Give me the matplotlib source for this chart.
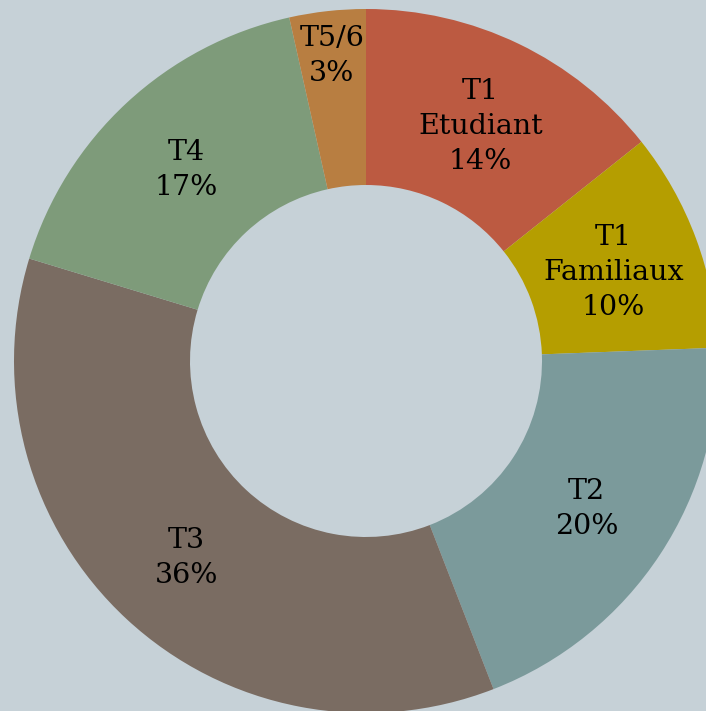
import matplotlib
matplotlib.use("Agg")
import matplotlib.pyplot as plt
import numpy as np

categories = ["T1\nEtudiant", "T1\nFamiliaux", "T2", "T3", "T4", "T5/6"]
values = [14.3, 10.1, 19.7, 35.6, 16.8, 3.5]
pct_labels = [14, 10, 20, 36, 17, 3]
colors = ["#BC5A41", "#B59E00", "#7B9A9B", "#7A6C62", "#7E9B7A", "#B87E41"]
label_radius = [0.75, 0.75, 0.75, 0.75, 0.75, 0.88]

BG = "#C6D1D7"
W, H = 706, 711
cx, cy = 366, 361
R = 352

fig = plt.figure(figsize=(W / 100, H / 100), dpi=100)
fig.patch.set_facecolor(BG)
ax = fig.add_axes([0, 0, 1, 1])
ax.set_facecolor(BG)

wedges, _ = ax.pie(values, colors=colors, startangle=90, counterclock=False,
                   radius=R, wedgeprops=dict(width=R * 0.5, linewidth=0),
                   center=(0, 0), frame=True)
ax.set_xlim(-cx, W - cx)
ax.set_ylim(-(H - cy), cy)
ax.set_aspect("equal")
ax.axis("off")

for w, cat, p, lr in zip(wedges, categories, pct_labels, label_radius):
    ang = np.deg2rad((w.theta1 + w.theta2) / 2)
    x = R * lr * np.cos(ang)
    y = R * lr * np.sin(ang) - 3
    ax.text(x, y, f"{cat}\n{p}%", ha="center", va="center", fontsize=20.5,
            family="DejaVu Serif", color="black", linespacing=1.38)

fig.savefig("out.png", dpi=100, facecolor=BG)
